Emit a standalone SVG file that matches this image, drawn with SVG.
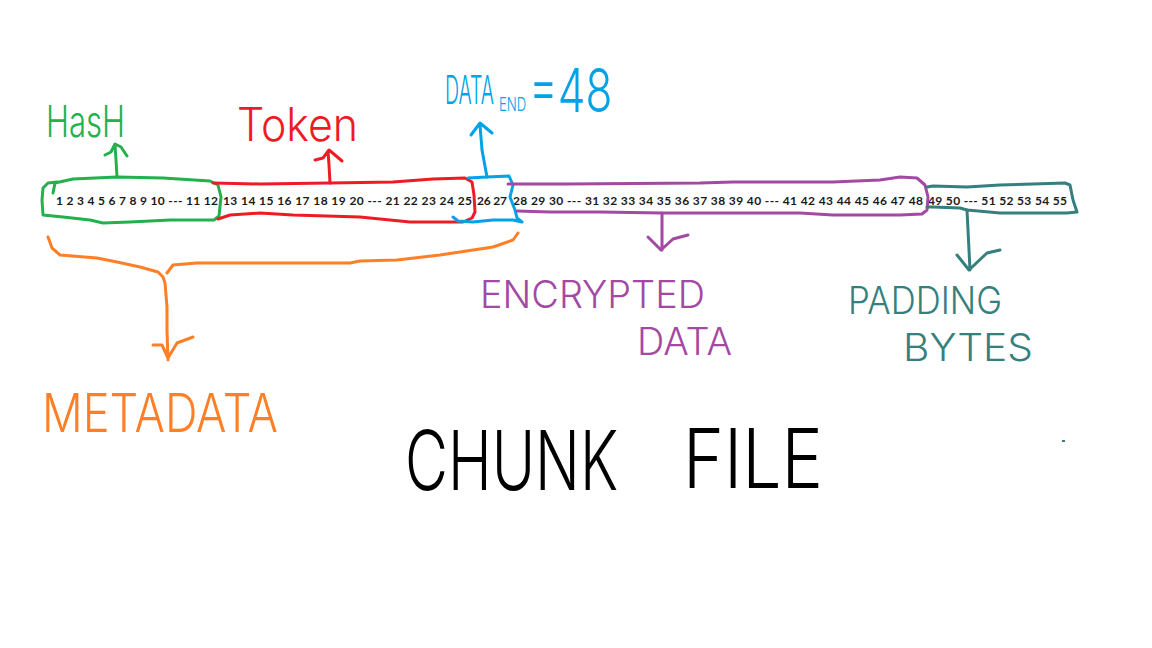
<svg xmlns="http://www.w3.org/2000/svg" width="1152" height="648" viewBox="0 0 1152 648">
<style>
.ln{fill:none;stroke-width:3;stroke-linecap:round;stroke-linejoin:round}
.hw{font-family:Inter,"DejaVu Sans","Liberation Sans",sans-serif;font-weight:300}
.num{font-family:Lato,"Liberation Sans",sans-serif;font-weight:bold;font-size:12px;fill:#1a1a1a}
.g{stroke:#22b14c}.r{stroke:#ed1c24}.b{stroke:#00a2e8}.p{stroke:#a349a4}.t{stroke:#357f7e}.o{stroke:#ff7f27}
</style>
<rect width="1152" height="648" fill="#fff"/>
<g id="bytes">
<text class="num" x="56" y="205" textLength="162" lengthAdjust="spacing">1 2 3 4 5 6 7 8 9 10 --- 11 12</text>
<text class="num" x="223" y="205" textLength="249" lengthAdjust="spacing">13 14 15 16 17 18 19 20 --- 21 22 23 24 25</text>
<text class="num" x="477" y="205" textLength="30" lengthAdjust="spacing">26 27</text>
<text class="num" x="513" y="205" textLength="410" lengthAdjust="spacing">28 29 30 --- 31 32 33 34 35 36 37 38 39 40 --- 41 42 43 44 45 46 47 48</text>
<text class="num" x="928" y="205" textLength="139" lengthAdjust="spacing">49 50 --- 51 52 53 54 55</text>
</g>
<g id="hash-box"><path class="ln g" d="M53,193 L55,183 L73,179 L117,177 L163,178 L210,181 L218,185 L221,197 L219,216 L214,220 L170,220 L130,222 L103,223 L90,220 L63,217 L43,215 L42,200 L43,188 L48,183 L57,182"/></g>
<g id="token-box"><path class="ln r" d="M213,183 L260,184 L330,183 L393,182 L433,179 L465,178 L472,182 L474,195 L475,212 L472,218 L463,222 L410,222 L360,217 L293,215 L260,213 L230,215 L218,219"/></g>
<g id="dataend-box"><path class="ln b" d="M468,178 L487,177 L509,176 L513,185 L510,197 L515,210 L517,218 L522,222 L513,220 L493,220 L473,222 L458,221 L453,217"/></g>
<g id="encrypted-box"><path class="ln p" d="M508,184 L567,184 L700,183 L733,182 L833,182 L880,180 L900,177 L917,178 L925,185 L928,197 L927,210 L922,214 L900,215 L833,215 L800,213 L700,213 L662,213 L600,212 L550,212 L517,211"/></g>
<g id="padding-box"><path class="ln t" d="M927,187 L933,186 L967,187 L1000,185 L1033,184 L1065,183 L1070,185 L1073,200 L1077,212 L1067,213 L1033,213 L1000,213 L967,210 L960,208 L933,207 L927,207"/></g>
<g id="connectors">
<path class="ln g" d="M117,177 L116,160 L115,145 M105,155 L111,152 L115,144 L121,147 L127,156"/>
<path class="ln r" d="M330,183 L329,165 L328,151 M315,160 L323,158 L329,150 L335,155 L342,161"/>
<path class="ln b" d="M487,177 L482,150 L480,125 M471,135 L480,123 L492,133"/>
<path class="ln o" d="M48,237 L52,248 L60,255 L97,258 L117,262 L140,267 L158,272 L163,277 L165,283 M167,273 L173,265 L197,263 L250,263 L350,263 L360,261 L397,260 L440,255 L460,252 L493,247 L513,240 L518,233 M165,283 L167,307 L167,330 L168,360 M153,345 L162,345 L168,358 L177,343 L193,337"/>
<path class="ln p" d="M662,213 L662,250 M648,237 L661,250 L673,239 L688,235"/>
<path class="ln t" d="M967,210 L970,270 M957,255 L969,270 L987,253 L1000,250"/>
</g>
<g id="hash"><text class="hw" x="46" y="137" font-size="44" fill="#22b14c" textLength="79" lengthAdjust="spacingAndGlyphs">HasH</text></g>
<g id="token"><text class="hw" x="237" y="141" font-size="46" fill="#ed1c24" textLength="121" lengthAdjust="spacingAndGlyphs">Token</text></g>
<g id="dataend" fill="#00a2e8">
<text class="hw" transform="translate(445,104) scale(0.48,1)" font-size="40" textLength="102" lengthAdjust="spacingAndGlyphs">DATA</text>
<text class="hw" transform="translate(499,111) scale(0.7,1)" font-size="19" textLength="39" lengthAdjust="spacingAndGlyphs">END</text>
<text class="hw" transform="translate(529,112) scale(0.78,1)" font-size="60" textLength="107" lengthAdjust="spacingAndGlyphs">=48</text>
</g>
<g id="encrypted">
<text class="hw" x="480" y="308" font-size="38" fill="#a349a4" textLength="225" lengthAdjust="spacingAndGlyphs">ENCRYPTED</text>
<text class="hw" x="637" y="355" font-size="38" fill="#a349a4" textLength="95" lengthAdjust="spacingAndGlyphs">DATA</text>
</g>
<g id="padding">
<text class="hw" x="848" y="314" font-size="38" fill="#357f7e" textLength="154" lengthAdjust="spacingAndGlyphs">PADDING</text>
<text class="hw" x="903" y="361" font-size="38" fill="#357f7e" textLength="130" lengthAdjust="spacingAndGlyphs">BYTES</text>
</g>
<g id="metadata"><text class="hw" x="42" y="432" font-size="54" fill="#ff7f27" textLength="236" lengthAdjust="spacingAndGlyphs">METADATA</text></g>
<g id="title" fill="#000">
<text class="hw" transform="translate(405,490) scale(0.72,1)" font-size="82" textLength="296" lengthAdjust="spacingAndGlyphs">CHUNK</text>
<text class="hw" transform="translate(683,488) scale(0.87,1)" font-size="82" textLength="161" lengthAdjust="spacingAndGlyphs">FILE</text>
</g>
<rect x="1062" y="440" width="3" height="2" fill="#357f7e"/>
</svg>
